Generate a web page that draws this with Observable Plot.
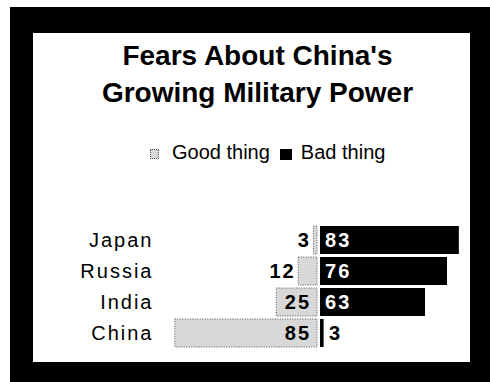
<!DOCTYPE html>
<html>
<head>
<meta charset="utf-8">
<script src="https://cdn.jsdelivr.net/npm/d3@7"></script>
<script src="https://cdn.jsdelivr.net/npm/@observablehq/plot@0.6"></script>
<style>
  html, body { margin: 0; padding: 0; background: #fff; width: 490px; height: 382px; overflow: hidden; }
  body { font-family: "Liberation Sans", Arial, sans-serif; position: relative; }
  #frame { position: absolute; left: 10px; top: 7px; width: 480px; height: 375px; box-sizing: border-box;
           border-style: solid; border-color: #000; border-width: 26px 20px 20px 23px; background: #fff; }
  #title { position: absolute; left: 39px; width: 437px; top: 37px; text-align: center;
           font-weight: bold; font-size: 28px; line-height: 37px; color: #000; }
  #legend { position: absolute; left: 150px; top: 140px; display: flex; align-items: center;
            font-size: 20px; line-height: 24px; color: #000; white-space: nowrap; }
  .sw { display: inline-block; margin-top: 4px; }
  .sw.good { background: #d8d8d8; border: 1px dotted #555; width: 7px; height: 8px; margin-right: 13px; }
  .sw.bad { background: #000; width: 12px; height: 11px; margin-left: 10px; margin-right: 9px; }
  #chart { position: absolute; left: 33px; top: 200px; }
</style>
</head>
<body>
<div id="frame"></div>
<div id="title">Fears About China's<br>Growing Military Power</div>
<div id="legend"><span class="sw good"></span><span>Good thing</span><span class="sw bad"></span><span>Bad thing</span></div>
<div id="chart"></div>
<script>
const countries = ["Japan", "Russia", "India", "China"];
const goodThing = [3, 12, 25, 85];
const badThing = [83, 76, 63, 3];

const data = countries.map((c, i) => ({country: c, good: goodThing[i], bad: badThing[i]}));

const font = {fontFamily: "'Liberation Sans', Arial, sans-serif", letterSpacing: "2px"};
const wide = 20; // labels go inside a bar when its value is at least this

const chart = Plot.plot({
  width: 437,
  height: 162,
  marginLeft: 0,
  marginRight: 0,
  marginTop: 22,
  marginBottom: 12,
  style: {...font, background: "transparent", overflow: "visible"},
  x: {domain: [-168.9, 89.6], axis: null},
  y: {domain: countries, axis: null, padding: 0.1},
  marks: [
    Plot.barX(data, {x1: d => -d.good, x2: 0, y: "country", fill: "#d8d8d8", stroke: "#555", strokeWidth: 1, strokeDasharray: "1,1.5", insetRight: 1.5}),
    Plot.barX(data, {x1: 0, x2: "bad", y: "country", fill: "#000", insetLeft: 1.5}),
    Plot.text(data, {y: "country", text: "country", frameAnchor: "left", dx: 120, textAnchor: "end", fontSize: 20, fill: "#000"}),
    // good labels
    Plot.text(data.filter(d => d.good >= wide), {x: 0, y: "country", text: d => String(d.good), textAnchor: "end", dx: -8, fontSize: 20, fontWeight: "bold", fill: "#000"}),
    Plot.text(data.filter(d => d.good < wide), {x: d => -d.good, y: "country", text: d => String(d.good), textAnchor: "end", dx: -3, fontSize: 20, fontWeight: "bold", fill: "#000"}),
    // bad labels
    Plot.text(data.filter(d => d.bad >= wide), {x: 0, y: "country", text: d => String(d.bad), textAnchor: "start", dx: 6, fontSize: 20, fontWeight: "bold", fill: "#fff"}),
    Plot.text(data.filter(d => d.bad < wide), {x: "bad", y: "country", text: d => String(d.bad), textAnchor: "start", dx: 5, fontSize: 20, fontWeight: "bold", fill: "#000"})
  ]
});
document.getElementById("chart").appendChild(chart);
</script>
</body>
</html>
